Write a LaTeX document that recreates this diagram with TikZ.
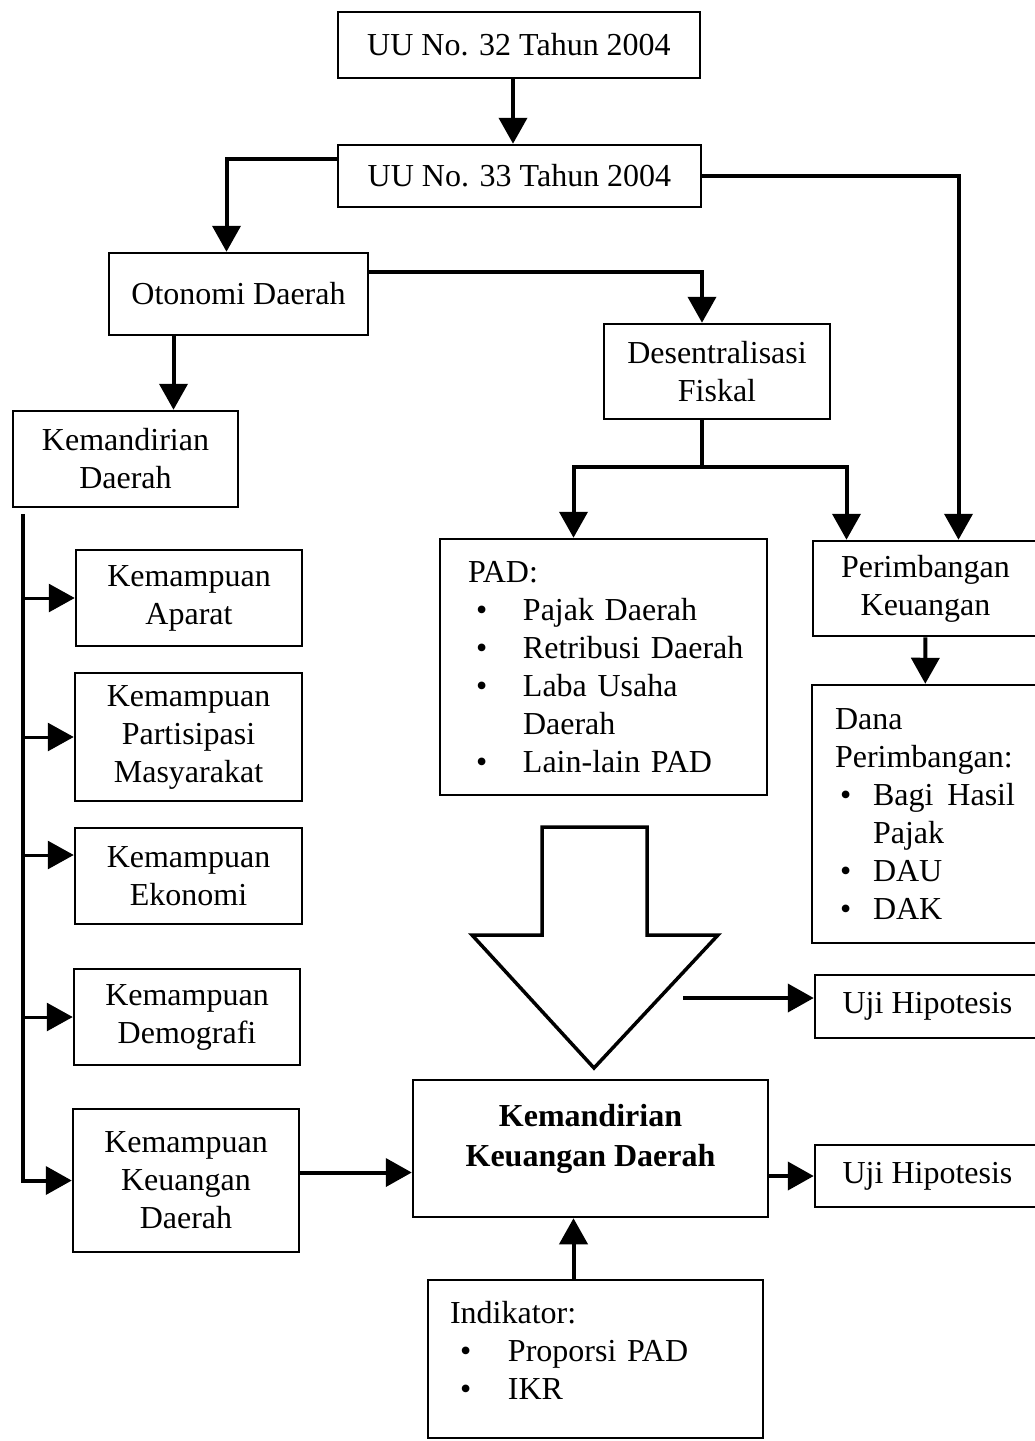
\documentclass[tikz,border=0pt]{standalone}
\usepackage{fontspec}
\setmainfont{Liberation Serif}
\usetikzlibrary{arrows.meta,calc}
\newcommand{\li}[2]{\makebox[#1][l]{\hspace*{#2}\textbullet}}

\begin{document}
\begin{tikzpicture}[
  x=1pt, y=-1pt,
  font=\fontsize{32}{38}\selectfont,
  box/.style={draw=black, line width=2.5pt, align=center, inner sep=0pt},
  lst/.style={box, align=left},
  arr/.style={-{Triangle[length=26pt,width=28pt]}, draw=black, line width=4pt},
  brn/.style={arr, line width=3pt},
  ln/.style={draw=black, line width=4pt},
  hollow/.style={draw=black, line width=3.5pt, line join=miter}
]
\useasboundingbox (0,0) rectangle (1035,1441);

\node[box, minimum width=362pt, minimum height=66pt] (uu32) at (519,45) {UU No. 32 Tahun 2004};
\node[box, minimum width=363pt, minimum height=62pt] (uu33) at (519.5,176) {UU No. 33 Tahun 2004};
\node[box, minimum width=259pt, minimum height=82pt] (ot) at (238.5,294) {Otonomi Daerah};
\node[box, minimum width=226pt, minimum height=95pt] (ds) at (717,371.5) {Desentralisasi\\Fiskal};
\node[box, minimum width=225pt, minimum height=96pt] (kd) at (125.5,459) {Kemandirian\\Daerah};
\node[lst, minimum width=327pt, minimum height=256pt, text width=271pt] (pad) at (603.5,667)
  {PAD:\\
   \li{55pt}{8pt}\mbox{Pajak Daerah}\\
   \li{55pt}{8pt}\mbox{Retribusi Daerah}\\
   \li{55pt}{8pt}\mbox{Laba Usaha}\\
   \hspace*{55pt}Daerah\\
   \li{55pt}{8pt}\mbox{Lain-lain PAD}};
\node[box, minimum width=225pt, minimum height=95pt] (pk) at (925.5,588.5) {Perimbangan\\Keuangan};
\node[lst, minimum width=226pt, minimum height=258pt, text width=180pt] (dana) at (925,814)
  {Dana\\
   Perimbangan:\\
   \li{38pt}{5pt}Bagi\hfill Hasil\\
   \hspace*{38pt}Pajak\\
   \li{38pt}{5pt}DAU\\
   \li{38pt}{5pt}DAK};
\node[box, minimum width=226pt, minimum height=96pt] (ka) at (189,598) {Kemampuan\\Aparat};
\node[box, minimum width=227pt, minimum height=128pt] (kp) at (188.5,737) {Kemampuan\\Partisipasi\\Masyarakat};
\node[box, minimum width=227pt, minimum height=96pt] (ke) at (188.5,876) {Kemampuan\\Ekonomi};
\node[box, minimum width=226pt, minimum height=96pt] (kdm) at (187,1017) {Kemampuan\\Demografi};
\node[box, minimum width=226pt, minimum height=143pt] (kk) at (186,1180.5) {Kemampuan\\Keuangan\\Daerah};
\node[box, minimum width=355pt, minimum height=137pt, font=\fontsize{32}{40}\selectfont\bfseries] (kkd) at (590.5,1148.5)
  {Kemandirian\\Keuangan Daerah\\[-14pt]\mbox{}};
\node[box, minimum width=225pt, minimum height=63pt] (uj1) at (927.5,1006.5) {Uji Hipotesis};
\node[box, minimum width=225pt, minimum height=62pt] (uj2) at (927.5,1176) {Uji Hipotesis};
\node[lst, minimum width=335pt, minimum height=158pt, text width=291pt] (ind) at (595.5,1359)
  {Indikator:\\
   \li{58pt}{10pt}\mbox{Proporsi PAD}\\
   \li{58pt}{10pt}IKR\\[-20pt]\mbox{}};

\draw[hollow] (542,827) -- (647,827) -- (647,935) -- (718,935) -- (594,1068)
  -- (472,935) -- (542,935) -- cycle;
\coordinate (hs) at (683,998);
\coordinate (split) at (702,467);
\coordinate (sp) at (23,0);
\coordinate (keb) at ([yshift=21pt]ke.west);

\draw[arr] ([xshift=-6pt]uu32.south) -- ([xshift=-6pt]uu32.south |- uu33.north);
\draw[arr] ([yshift=17pt]uu33.west) -| ([xshift=-12pt]ot.north);
\draw[arr] (uu33.east) -| ([xshift=33pt]pk.north);
\draw[arr] ([yshift=22pt]ot.east) -| ([xshift=-15pt]ds.north);
\draw[arr] ([xshift=-65pt]ot.south) -- ([xshift=-65pt]ot.south |- kd.north);
\draw[ln] ([xshift=-15pt]ds.south) -- (split);
\draw[arr] (split) -| ([xshift=-30pt]pad.north);
\draw[arr] (split) -| ([xshift=-79pt]pk.north);
\draw[arr] (pk) -- (dana);
\draw[arr] ([yshift=-6pt]kd.south -| sp) |- (kk.west);
\foreach \n in {ka,kp,kdm}
  \draw[brn] (sp |- \n.west) -- (\n.west);
\draw[brn] (sp |- keb) -- (keb);
\draw[arr] ([yshift=8pt]kk.east) -- ([yshift=8pt]kk.east -| kkd.west);
\draw[arr] (kkd.east |- uj2.west) -- (uj2.west);
\draw[arr] (hs) -- (hs -| uj1.west);
\draw[arr] ([xshift=-22pt]ind.north) -- ([xshift=-22pt]ind.north |- kkd.south);
\end{tikzpicture}
\end{document}
